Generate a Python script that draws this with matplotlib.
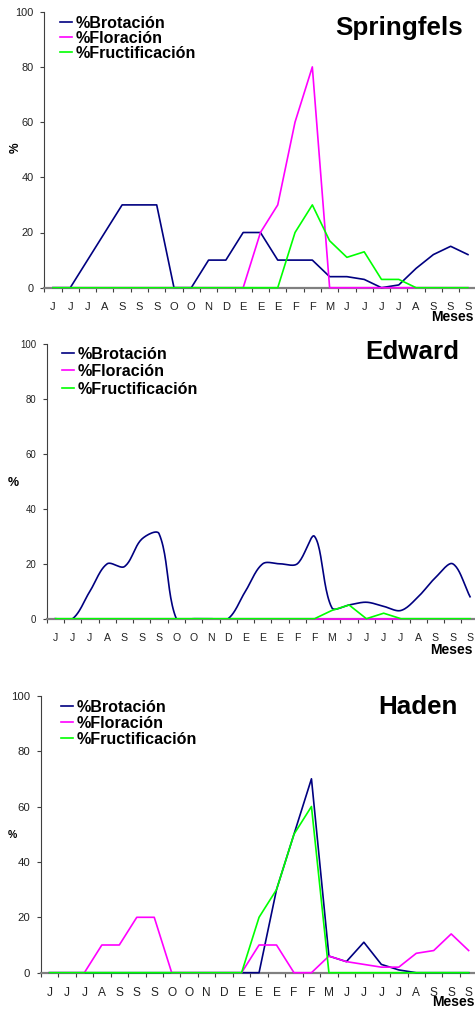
import numpy as np
import matplotlib
matplotlib.use("Agg")
import matplotlib.pyplot as plt

plt.rcParams["font.family"] = ["Liberation Sans", "DejaVu Sans"]

# ------------------------------------------------------------------ #
#  Data
# ------------------------------------------------------------------ #
meses = ["J", "J", "J", "A", "S", "S", "S", "O", "O", "N", "D", "E", "E",
         "E", "F", "F", "M", "J", "J", "J", "J", "A", "S", "S", "S"]

series_names = ["%Brotación", "%Floración", "%Fructificación"]

spr_brot = [0, 0, 10, 20, 30, 30, 30, 0, 0, 10, 10, 20, 20, 10, 10, 10, 4, 4, 3, 0, 1, 7, 12, 15, 12]
spr_flor = [0, 0, 0, 0, 0, 0, 0, 0, 0, 0, 0, 0, 20, 30, 60, 80, 0, 0, 0, 0, 0, 0, 0, 0, 0]
spr_fruc = [0, 0, 0, 0, 0, 0, 0, 0, 0, 0, 0, 0, 0, 0, 20, 30, 17, 11, 13, 3, 3, 0, 0, 0, 0]

edw_brot = [0, 0, 10, 20, 19, 29, 31, 0, 0, 0, 0, 10, 20, 20, 20, 30, 4, 5, 6, 4.5, 3, 8, 15, 20, 8]
edw_flor = [0] * 25
edw_fruc = [0, 0, 0, 0, 0, 0, 0, 0, 0, 0, 0, 0, 0, 0, 0, 0, 3, 5, 0, 2, 0, 0, 0, 0, 0]

had_brot = [0, 0, 0, 0, 0, 0, 0, 0, 0, 0, 0, 0, 0, 30, 50, 70, 6, 4, 11, 3, 1, 0, 0, 0, 0]
had_flor = [0, 0, 0, 10, 10, 20, 20, 0, 0, 0, 0, 0, 10, 10, 0, 0, 6, 4, 3, 2, 2, 7, 8, 14, 8]
had_fruc = [0, 0, 0, 0, 0, 0, 0, 0, 0, 0, 0, 0, 20, 30, 50, 60, 0, 0, 0, 0, 0, 0, 0, 0, 0]

COLORS = ["#000080", "#FF00FF", "#00FF00"]

W, H = 475, 1011


def fx(px):
    return px / W


def fy(px):
    return 1 - px / H


def smooth_curve(xs, ys, sx, sy, n=24):
    """Excel-like smoothed line: cubic Bezier through the points,
    control points proportional to neighbouring chord lengths (pixel space)."""
    P = np.column_stack([np.asarray(xs, float) * sx, np.asarray(ys, float) * sy])
    pts = [P[0]]
    t = np.linspace(0, 1, n)[1:, None]
    for i in range(len(P) - 1):
        p0, p1 = P[i], P[i + 1]
        prev = P[i - 1] if i > 0 else p0
        nxt = P[i + 2] if i + 2 < len(P) else p1
        la = np.linalg.norm(p0 - prev)
        lb = np.linalg.norm(p1 - p0)
        lc = np.linalg.norm(nxt - p1)
        c1 = p0 + (p1 - prev) * (lb / (la + lb)) / 3
        c2 = p1 - (nxt - p0) * (lb / (lb + lc)) / 3
        seg = ((1 - t) ** 3) * p0 + 3 * ((1 - t) ** 2) * t * c1 \
            + 3 * (1 - t) * t ** 2 * c2 + t ** 3 * p1
        pts.extend(seg)
    pts = np.array(pts)
    return pts[:, 0] / sx, pts[:, 1] / sy


panels = [
    dict(name="Springfels", data=(spr_brot, spr_flor, spr_fruc), smooth=False,
         box=(44.3, 11.7, 476.6, 287.7), ytick_fs=7.9, xtick_fs=8.0,
         title_xy=(463, 28), leg_xy=(60, 23), leg_sp=15,
         pct_xy=(15.5, 148), pct_rot=90, pct_fs=8.6, meses_xy=(474, 317)),
    dict(name="Edward", data=(edw_brot, edw_flor, edw_fruc), smooth=True,
         box=(46.7, 344.3, 478.7, 618.7), ytick_fs=6.9, xtick_fs=7.6,
         title_xy=(459, 352), leg_xy=(62, 354), leg_sp=17.5,
         pct_xy=(13.5, 483), pct_rot=0, pct_fs=9, meses_xy=(473, 650)),
    dict(name="Haden", data=(had_brot, had_flor, had_fruc), smooth=False,
         box=(40.7, 695.7, 477.4, 972.7), ytick_fs=8.2, xtick_fs=8.6,
         title_xy=(458, 707), leg_xy=(61, 707), leg_sp=16,
         pct_xy=(12, 835), pct_rot=0, pct_fs=7.6, meses_xy=(475, 1002)),
]

fig = plt.figure(figsize=(W / 100, H / 100), dpi=100)

LEG_FS = 11.6
x = np.arange(len(meses)) + 0.5

for p in panels:
    l, t, r, b = p["box"]
    ax = fig.add_axes([fx(l), fy(b), (r - l) / W, (b - t) / H])
    sx, sy = (r - l) / len(meses), (b - t) / 100.0

    handles = []
    for vals, name, col in zip(p["data"], series_names, COLORS):
        if p["smooth"] and name == "%Brotación":
            xx, yy = smooth_curve(x, vals, sx, sy)
            clip = True
        else:
            xx, yy = x, vals
            clip = False
        ln, = ax.plot(xx, yy, color=col, lw=1.2, label=name,
                      clip_on=clip, zorder=3)
        handles.append(ln)

    ax.set_xlim(0, len(meses))
    ax.set_ylim(0, 100)
    for s in ("top", "right"):
        ax.spines[s].set_visible(False)
    ax.spines["bottom"].set_color("#808080")
    ax.spines["bottom"].set_linewidth(1.6)
    ax.spines["left"].set_color("#404040")
    ax.spines["left"].set_linewidth(0.8)

    ax.set_yticks(range(0, 101, 20))
    ax.tick_params(axis="y", direction="out", length=3, width=0.8,
                   color="#404040", labelsize=p["ytick_fs"], pad=4.5,
                   labelcolor="#222222")
    ax.set_xticks(x, meses)
    ax.set_xticks(np.arange(len(meses) + 1), minor=True)
    ax.tick_params(axis="x", which="major", length=0, pad=10.5,
                   labelsize=p["xtick_fs"], labelcolor="#222222")
    ax.tick_params(axis="x", which="minor", direction="out", length=3,
                   width=0.8, color="#404040")

    # legend: top-left, no frame
    lx, ly = p["leg_xy"]
    fs_px = LEG_FS / 0.72
    text_h = 0.93 * fs_px
    spacing = (p["leg_sp"] - text_h) / fs_px
    ax.legend(handles=handles, loc="upper left",
              bbox_to_anchor=(fx(lx), fy(ly - text_h / 2)),
              bbox_transform=fig.transFigure, frameon=False,
              prop=dict(size=LEG_FS, weight="bold"),
              handlelength=0.75, handletextpad=0.2, labelspacing=spacing,
              borderpad=0, borderaxespad=0)

    tx, ty = p["title_xy"]
    fig.text(fx(tx), fy(ty), p["name"], ha="right", va="center",
             fontsize=18.7, fontweight="bold")

    px_, py_ = p["pct_xy"]
    fig.text(fx(px_), fy(py_), "%", ha="center", va="center",
             rotation=p["pct_rot"], fontsize=p["pct_fs"], fontweight="bold")

    mx, my = p["meses_xy"]
    fig.text(fx(mx), fy(my), "Meses", ha="right", va="center",
             fontsize=10, fontweight="bold")

fig.savefig("out.png", dpi=100)
